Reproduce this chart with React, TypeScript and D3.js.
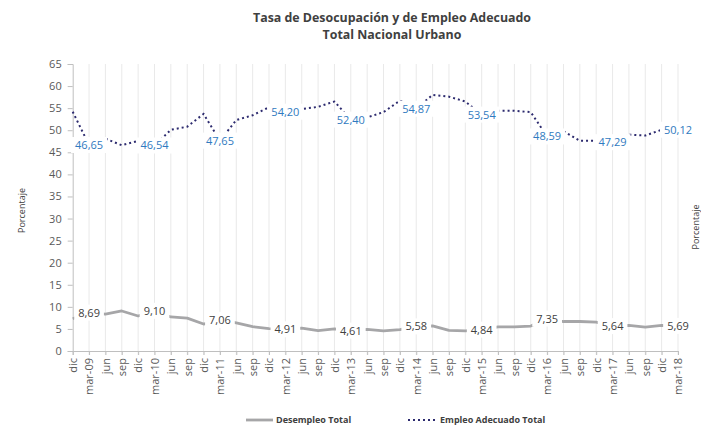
import { useEffect, useRef } from "react";
import * as d3 from "d3";

// trimestres dic-08 .. mar-18
const periodos = [
  "dic", "mar-09", "jun", "sep", "dic", "mar-10", "jun", "sep", "dic", "mar-11",
  "jun", "sep", "dic", "mar-12", "jun", "sep", "dic", "mar-13", "jun", "sep",
  "dic", "mar-14", "jun", "sep", "dic", "mar-15", "jun", "sep", "dic", "mar-16",
  "jun", "sep", "dic", "mar-17", "jun", "sep", "dic", "mar-18",
];

const desempleo = [
  7.3, 8.69, 8.34, 9.06, 7.93, 9.1, 7.71, 7.44, 6.11, 7.06,
  6.36, 5.52, 5.07, 4.91, 5.19, 4.6, 5.0, 4.61, 4.89, 4.55,
  4.86, 5.58, 5.71, 4.65, 4.54, 4.84, 5.45, 5.48, 5.65, 7.35,
  6.68, 6.68, 6.52, 5.64, 5.78, 5.42, 5.82, 5.69,
];

const empleoAdecuado = [
  54.2, 46.65, 48.1, 46.6, 47.6, 46.54, 50.1, 50.8, 53.7, 47.65,
  52.3, 53.4, 55.2, 54.2, 54.8, 55.3, 56.5, 52.4, 52.9, 54.1,
  56.7, 54.87, 58.0, 57.6, 56.5, 53.54, 54.4, 54.4, 54.1, 48.59,
  49.8, 47.6, 47.6, 47.29, 49.0, 48.8, 50.1, 50.12,
];

const yTicks = [0, 5, 10, 15, 20, 25, 30, 35, 40, 45, 50, 55, 60, 65];

const W = 701;
const H = 439;
const FONT = "'Open Sans', 'Liberation Sans', sans-serif";

export default function App() {
  const ref = useRef<SVGSVGElement>(null);

  useEffect(() => {
    document.body.style.margin = "0";
    const svg = d3.select(ref.current);
    svg.selectAll("*").remove();

    const margin = { top: 64, right: 23, bottom: 88, left: 72.7 };
    const idx = periodos.map((_, i) => i);

    const x = d3
      .scalePoint<number>()
      .domain(idx)
      .range([margin.left, W - margin.right]);

    const y = d3
      .scaleLinear()
      .domain([0, 65])
      .range([H - margin.bottom, margin.top]);

    // titulo
    const title = svg
      .append("text")
      .attr("text-anchor", "middle")
      .attr("font-family", FONT)
      .attr("font-weight", "bold")
      .attr("font-size", 12.4)
      .attr("fill", "#404040");
    title.append("tspan").attr("x", 392).attr("y", 22).text("Tasa de Desocupación y de Empleo Adecuado");
    title.append("tspan").attr("x", 392).attr("y", 39).text("Total Nacional Urbano");

    // lineas verticales de la grilla
    svg
      .append("g")
      .selectAll("line")
      .data(idx.slice(1))
      .join("line")
      .attr("x1", (d) => x(d)!)
      .attr("x2", (d) => x(d)!)
      .attr("y1", y(65))
      .attr("y2", y(0) + 4)
      .attr("stroke", "#e9e9e9")
      .attr("stroke-width", 1);

    // eje y
    const yAxis = svg
      .append("g")
      .attr("transform", `translate(${margin.left},0)`)
      .call(d3.axisLeft(y).tickValues(yTicks).tickSize(5).tickPadding(6));
    yAxis.select(".domain").attr("stroke", "#bfbfbf");
    yAxis.selectAll(".tick line").attr("stroke", "#bfbfbf");
    yAxis
      .selectAll("text")
      .attr("font-family", FONT)
      .attr("font-size", 11)
      .attr("fill", "#595959");

    // eje x
    const xAxis = svg
      .append("g")
      .attr("transform", `translate(0,${y(0)})`)
      .call(d3.axisBottom(x).tickSize(4).tickFormat((d) => periodos[d as number]));
    xAxis.select(".domain").attr("stroke", "#bfbfbf");
    xAxis.selectAll(".tick line").attr("stroke", "#bfbfbf");
    xAxis
      .selectAll("text")
      .attr("font-family", FONT)
      .attr("font-size", 11)
      .attr("fill", "#595959")
      .attr("transform", "rotate(-90)")
      .attr("text-anchor", "end")
      .attr("x", -7)
      .attr("y", 0)
      .attr("dy", "0.35em");

    // titulos de ejes
    svg
      .append("text")
      .attr("transform", `translate(25,${(y(0) + y(65)) / 2 + 3}) rotate(-90)`)
      .attr("text-anchor", "middle")
      .attr("font-family", FONT)
      .attr("font-size", 9)
      .attr("fill", "#404040")
      .text("Porcentaje");
    svg
      .append("text")
      .attr("transform", `translate(699,227) rotate(-90)`)
      .attr("text-anchor", "middle")
      .attr("font-family", FONT)
      .attr("font-size", 9)
      .attr("fill", "#404040")
      .text("Porcentaje");

    const line = d3
      .line<number>()
      .x((_, i) => x(i)!)
      .y((d) => y(d));

    svg
      .append("path")
      .datum(desempleo)
      .attr("fill", "none")
      .attr("stroke", "#a6a6a8")
      .attr("stroke-width", 2.8)
      .attr("stroke-linejoin", "round")
      .attr("d", line);

    svg
      .append("path")
      .datum(empleoAdecuado)
      .attr("fill", "none")
      .attr("stroke", "#2d2b6f")
      .attr("stroke-width", 2)
      .attr("stroke-dasharray", "2 3")
      .attr("d", line);

    // etiquetas de datos (solo en marzo)
    const fmt = (v: number) => v.toFixed(2).replace(".", ",");
    const etiquetas = (serie: number[], color: string) => {
      const g = svg.append("g");
      idx
        .filter((i) => periodos[i].startsWith("mar"))
        .forEach((i) => {
          const lg = g.append("g").attr("transform", `translate(${x(i)},${y(serie[i])})`);
          const rect = lg.append("rect").attr("fill", "#ffffff");
          const t = lg
            .append("text")
            .attr("text-anchor", "middle")
            .attr("dy", "0.36em")
            .attr("font-family", FONT)
            .attr("font-size", 11)
            .attr("fill", color)
            .text(fmt(serie[i]));
          const w = (t.node() as SVGTextElement).getComputedTextLength();
          rect
            .attr("x", -w / 2 - 4)
            .attr("y", -8)
            .attr("width", w + 8)
            .attr("height", 16);
        });
    };
    etiquetas(desempleo, "#404040");
    etiquetas(empleoAdecuado, "#2f7ac0");

    // leyenda
    const leg = svg.append("g").attr("font-family", FONT).attr("font-size", 9).attr("font-weight", "bold").attr("fill", "#404040");
    leg.append("line").attr("x1", 246).attr("x2", 273).attr("y1", 420).attr("y2", 420)
      .attr("stroke", "#a6a6a8").attr("stroke-width", 2.8);
    leg.append("text").attr("x", 276).attr("y", 420).attr("dy", "0.35em").text("Desempleo Total");
    leg.append("line").attr("x1", 408).attr("x2", 437).attr("y1", 420).attr("y2", 420)
      .attr("stroke", "#2d2b6f").attr("stroke-width", 2).attr("stroke-dasharray", "2 3");
    leg.append("text").attr("x", 440).attr("y", 420).attr("dy", "0.35em").text("Empleo Adecuado Total");
  }, []);

  return <svg ref={ref} width={W} height={H} viewBox={`0 0 ${W} ${H}`} style={{ display: "block", background: "#fff" }} />;
}
